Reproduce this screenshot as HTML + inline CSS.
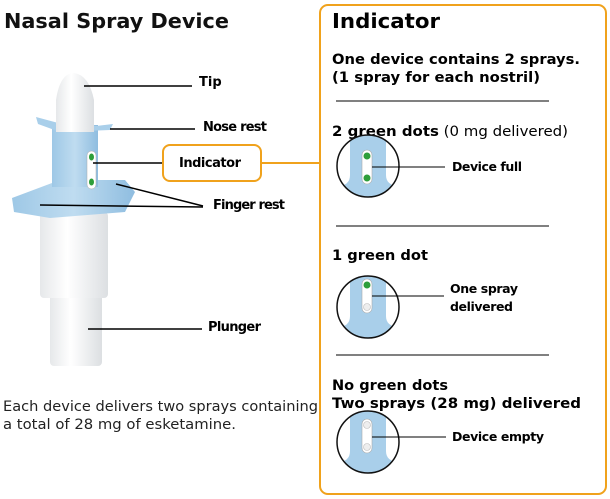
<!DOCTYPE html>
<html><head><meta charset="utf-8"><style>
body{margin:0;background:#fff;width:610px;height:499px;overflow:hidden}
svg{display:block}
text{font-family:"DejaVu Sans","Liberation Sans",sans-serif}
</style></head><body>
<svg width="610" height="499" viewBox="0 0 610 499" xmlns="http://www.w3.org/2000/svg">
<defs>
<linearGradient id="wh" x1="0" x2="1"><stop offset="0" stop-color="#e6e8ea"/><stop offset="0.4" stop-color="#ffffff"/><stop offset="1" stop-color="#dcdfe2"/></linearGradient>
<linearGradient id="bl" x1="0" x2="1"><stop offset="0" stop-color="#9ec8e6"/><stop offset="0.5" stop-color="#bfdcf0"/><stop offset="1" stop-color="#8fbde0"/></linearGradient>
<clipPath id="c1"><circle cx="368" cy="166" r="31"/></clipPath>
<clipPath id="c2"><circle cx="368" cy="307" r="31"/></clipPath>
<clipPath id="c3"><circle cx="368" cy="442" r="31"/></clipPath>
</defs>
<text x="4" y="28" font-size="20" font-weight="bold" fill="#111" textLength="225" lengthAdjust="spacingAndGlyphs">Nasal Spray Device</text>
<!-- device -->
<rect x="50" y="290" width="52" height="76" rx="4" fill="url(#wh)"/>
<rect x="40" y="212" width="68" height="86" rx="4" fill="url(#wh)"/>
<path d="M12 198 L60 180 L125 180 L135 192 L125 212 L50 218 L14 212 Z" fill="url(#bl)"/>
<rect x="52" y="125" width="46" height="62" fill="url(#bl)"/>
<path d="M36 117 L62 124 L96 126 L113 124 L110 130 L60 132 L38 124 Z" fill="#a9cfea"/>
<path d="M56 132 L56 100 Q60 73 74 73 Q89 75 94 100 L94 132 Z" fill="url(#wh)"/>
<rect x="87" y="151" width="9" height="38" rx="4.5" fill="#fff" stroke="#aaa" stroke-width="0.5"/>
<ellipse cx="91.5" cy="157" rx="2.5" ry="3.5" fill="#2e9e3a"/>
<ellipse cx="91.5" cy="182" rx="2.5" ry="3.5" fill="#2e9e3a"/>
<g stroke="#000" stroke-width="1.5">
<line x1="84" y1="86" x2="192" y2="86"/>
<line x1="110" y1="129" x2="195" y2="129"/>
<line x1="93" y1="163" x2="163" y2="163"/>
<line x1="116" y1="184" x2="203" y2="206"/>
<line x1="40" y1="205" x2="203" y2="207"/>
<line x1="88" y1="329" x2="202" y2="329"/>
</g>
<text x="199" y="86" font-size="13" font-weight="bold">Tip</text>
<text x="203" y="131" font-size="13" font-weight="bold" textLength="64">Nose rest</text>
<text x="213" y="209" font-size="13" font-weight="bold" textLength="72">Finger rest</text>
<text x="208" y="331" font-size="13" font-weight="bold" textLength="53">Plunger</text>
<rect x="163" y="145" width="98" height="36" rx="7" fill="#fff" stroke="#f0a21c" stroke-width="2"/>
<text x="179" y="167" font-size="13" font-weight="bold" textLength="62">Indicator</text>
<line x1="261" y1="163" x2="320" y2="163" stroke="#f0a21c" stroke-width="2"/>
<text x="3" y="411" font-size="14" fill="#222" textLength="315" lengthAdjust="spacingAndGlyphs">Each device delivers two sprays containing</text>
<text x="3" y="429" font-size="14" fill="#222" textLength="233" lengthAdjust="spacingAndGlyphs">a total of 28 mg of esketamine.</text>
<!-- panel -->
<rect x="320" y="5" width="286" height="489" rx="8" fill="#fff" stroke="#f0a21c" stroke-width="2"/>
<text x="332" y="28" font-size="20" font-weight="bold" textLength="108" lengthAdjust="spacingAndGlyphs">Indicator</text>
<text x="332" y="64" font-size="14.5" font-weight="bold" textLength="248" lengthAdjust="spacingAndGlyphs">One device contains 2 sprays.</text>
<text x="332" y="82" font-size="14.5" font-weight="bold" textLength="208" lengthAdjust="spacingAndGlyphs">(1 spray for each nostril)</text>
<g stroke="#000" stroke-width="1"><line x1="336" y1="101" x2="549" y2="101"/><line x1="336" y1="226" x2="549" y2="226"/><line x1="336" y1="355" x2="549" y2="355"/></g>
<text x="332" y="136" font-size="14.5" textLength="236" lengthAdjust="spacingAndGlyphs"><tspan font-weight="bold">2 green dots</tspan> (0 mg delivered)</text>
<text x="332" y="260" font-size="14.5" font-weight="bold" textLength="96" lengthAdjust="spacingAndGlyphs">1 green dot</text>
<text x="332" y="390" font-size="14.5" font-weight="bold" textLength="116" lengthAdjust="spacingAndGlyphs">No green dots</text>
<text x="332" y="408" font-size="14.5" font-weight="bold" textLength="249" lengthAdjust="spacingAndGlyphs">Two sprays (28 mg) delivered</text>
<!-- circles -->
<g clip-path="url(#c1)"><rect x="330" y="130" width="80" height="80" fill="#fff"/><path d="M350 130 L350 175 Q350 186 337 186 L337 210 L400 210 L400 186 Q386 186 386 175 L386 130 Z" fill="#a9cfea"/><rect x="362" y="150" width="10" height="34" rx="5" fill="#fff" stroke="#aaa" stroke-width="0.6"/><circle cx="367" cy="156" r="3.5" fill="#2e9e3a"/><circle cx="367" cy="178" r="3.5" fill="#2e9e3a"/></g>
<circle cx="368" cy="166" r="31" fill="none" stroke="#111" stroke-width="1.5"/>
<g clip-path="url(#c2)"><rect x="330" y="270" width="80" height="80" fill="#fff"/><path d="M350 270 L350 316 Q350 327 337 327 L337 350 L400 350 L400 327 Q386 327 386 316 L386 270 Z" fill="#a9cfea"/><rect x="362" y="279" width="10" height="34" rx="5" fill="#fff" stroke="#aaa" stroke-width="0.6"/><circle cx="367" cy="285" r="3.5" fill="#2e9e3a"/><circle cx="367" cy="307" r="3.5" fill="#eee" stroke="#bbb" stroke-width="0.6"/></g>
<circle cx="368" cy="307" r="31" fill="none" stroke="#111" stroke-width="1.5"/>
<g clip-path="url(#c3)"><rect x="330" y="405" width="80" height="80" fill="#fff"/><path d="M350 405 L350 451 Q350 462 337 462 L337 485 L400 485 L400 462 Q386 462 386 451 L386 405 Z" fill="#a9cfea"/><rect x="362" y="419" width="10" height="34" rx="5" fill="#fff" stroke="#aaa" stroke-width="0.6"/><circle cx="367" cy="425" r="3.5" fill="#eee" stroke="#bbb" stroke-width="0.6"/><circle cx="367" cy="447" r="3.5" fill="#eee" stroke="#bbb" stroke-width="0.6"/></g>
<circle cx="368" cy="442" r="31" fill="none" stroke="#111" stroke-width="1.5"/>
<g stroke="#000" stroke-width="1"><line x1="372" y1="167" x2="445" y2="167"/><line x1="372" y1="296" x2="444" y2="296"/><line x1="372" y1="437" x2="446" y2="437"/></g>
<text x="452" y="171" font-size="12.5" font-weight="bold" textLength="70">Device full</text>
<text x="450" y="293" font-size="12.5" font-weight="bold" textLength="68">One spray</text>
<text x="450" y="311" font-size="12.5" font-weight="bold" textLength="63">delivered</text>
<text x="452" y="441" font-size="12.5" font-weight="bold" textLength="92">Device empty</text>
</svg>
</body></html>
